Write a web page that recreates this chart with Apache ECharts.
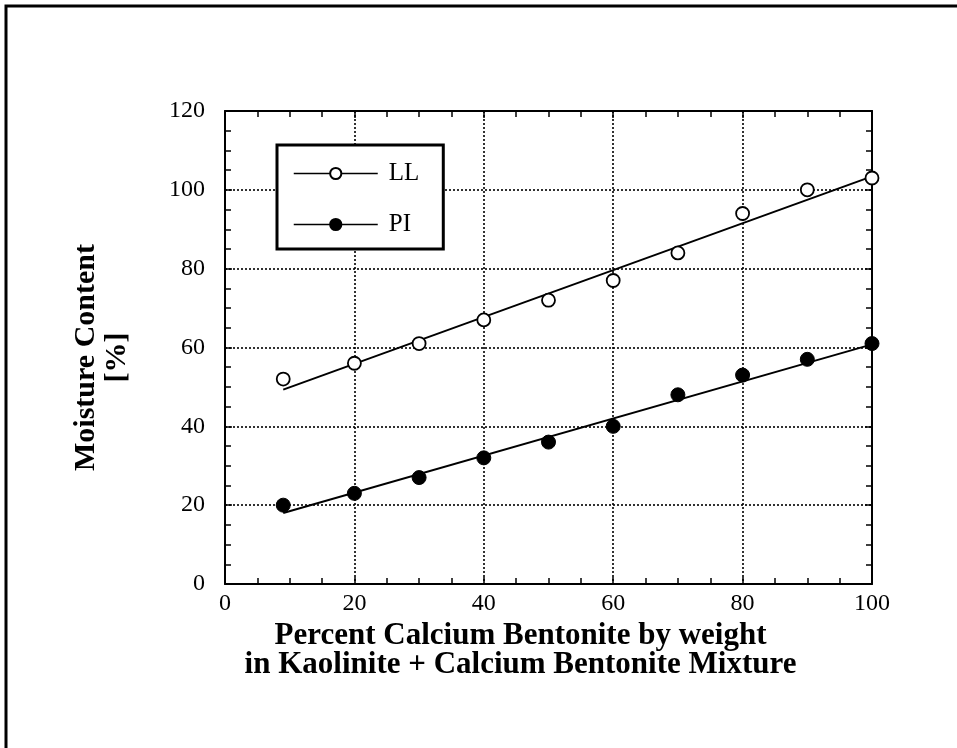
<!DOCTYPE html>
<html>
<head>
<meta charset="utf-8">
<script src="https://cdn.jsdelivr.net/npm/echarts@6/dist/echarts.min.js"></script>
<style>
html,body{margin:0;padding:0;background:#fff;}
#chart{width:957px;height:748px;}
</style>
</head>
<body>
<div id="chart"></div>
<script>
// ---- data ----
const xPercent = [9, 20, 30, 40, 50, 60, 70, 80, 90, 100];
const llValues = [52, 56, 61, 67, 72, 77, 84, 94, 100, 103];
const piValues = [20, 23, 27, 32, 36, 40, 48, 53, 57, 61];
const fitX = [9, 100];
const llFitY = [49.3, 103.4];
const piFitY = [18, 60.8];
const seriesNames = ['LL', 'PI'];
const xTitle = 'Percent Calcium Bentonite by weight\nin Kaolinite + Calcium Bentonite Mixture';
const yTitle = 'Moisture Content\n[%]';

const pairs = (xs, ys) => xs.map((x, i) => [x, ys[i]]);
const FONT = "'Liberation Serif', 'Times New Roman', serif";

const chart = echarts.init(document.getElementById('chart'), null, {renderer: 'canvas'});

const dotted = {show: true, lineStyle: {color: '#000', width: 1.6, type: [2, 2]}};
const tickCommon = {show: true, inside: true, length: 7, lineStyle: {color: '#000', width: 1.5}};
const minorCommon = {show: true, splitNumber: 4, length: 6, lineStyle: {color: '#000', width: 1.5}};
const axisLineCommon = {show: true, onZero: false, lineStyle: {color: '#000', width: 2}};

chart.setOption({
  backgroundColor: '#fff',
  animation: false,
  grid: {left: 225, right: 85, top: 111, bottom: 164, containLabel: false},
  graphic: [{
    type: 'polyline',
    shape: {points: [[6, 760], [6, 6], [970, 6]]},
    style: {stroke: '#000', lineWidth: 3, fill: null}
  }],
  legend: {
    data: seriesNames,
    orient: 'vertical',
    left: 277, top: 145,
    padding: [16, 24, 12, 16],
    itemGap: 26,
    itemWidth: 84,
    itemHeight: 14,
    backgroundColor: '#fff',
    borderColor: '#000',
    borderWidth: 3,
    borderRadius: 0,
    lineStyle: {color: '#000', width: 1.5, opacity: 1},
    textStyle: {fontFamily: FONT, fontSize: 25, lineHeight: 20, color: '#000', padding: [0, 0, 0, 6]},
    selectedMode: false,
    z: 10
  },
  xAxis: [{
    type: 'value', min: 0, max: 100, interval: 20, position: 'bottom',
    axisLine: axisLineCommon,
    axisTick: tickCommon,
    minorTick: minorCommon,
    splitLine: dotted,
    axisLabel: {fontFamily: FONT, fontSize: 24, color: '#000', margin: 8},
    name: xTitle, nameLocation: 'middle', nameGap: 34,
    nameTextStyle: {fontFamily: FONT, fontSize: 31, fontWeight: 'bold', color: '#000', lineHeight: 29, padding: [0, 56, 0, 0]}
  }, {
    type: 'value', min: 0, max: 100, interval: 20, position: 'top',
    axisLine: axisLineCommon,
    axisTick: tickCommon,
    minorTick: minorCommon,
    splitLine: {show: false},
    axisLabel: {show: false}
  }],
  yAxis: [{
    type: 'value', min: 0, max: 120, interval: 20, position: 'left',
    axisLine: axisLineCommon,
    axisTick: tickCommon,
    minorTick: minorCommon,
    splitLine: dotted,
    axisLabel: {fontFamily: FONT, fontSize: 24, color: '#000', margin: 20},
    name: yTitle, nameLocation: 'middle', nameGap: 92, nameRotate: 90,
    nameTextStyle: {fontFamily: FONT, fontSize: 30, fontWeight: 'bold', color: '#000', lineHeight: 31, padding: [0, 20, 0, 0]}
  }, {
    type: 'value', min: 0, max: 120, interval: 20, position: 'right',
    axisLine: axisLineCommon,
    axisTick: tickCommon,
    minorTick: minorCommon,
    splitLine: {show: false},
    axisLabel: {show: false}
  }],
  series: [{
    name: 'LL fit', type: 'line', xAxisIndex: 0, yAxisIndex: 0,
    data: pairs(fitX, llFitY), showSymbol: false, symbol: 'none',
    lineStyle: {color: '#000', width: 2}, z: 2
  }, {
    name: 'PI fit', type: 'line', xAxisIndex: 0, yAxisIndex: 0,
    data: pairs(fitX, piFitY), showSymbol: false, symbol: 'none',
    lineStyle: {color: '#000', width: 2}, z: 2
  }, {
    name: seriesNames[0], type: 'line', xAxisIndex: 0, yAxisIndex: 0,
    data: pairs(xPercent, llValues),
    symbol: 'circle', symbolSize: 13, showSymbol: true,
    lineStyle: {width: 0, opacity: 0},
    itemStyle: {color: '#fff', borderColor: '#000', borderWidth: 1.8, opacity: 1},
    z: 3
  }, {
    name: seriesNames[1], type: 'line', xAxisIndex: 0, yAxisIndex: 0,
    data: pairs(xPercent, piValues),
    symbol: 'circle', symbolSize: 14, showSymbol: true,
    lineStyle: {width: 0, opacity: 0},
    itemStyle: {color: '#000', borderColor: '#000', borderWidth: 1, opacity: 1},
    z: 3
  }]
});
</script>
</body>
</html>
